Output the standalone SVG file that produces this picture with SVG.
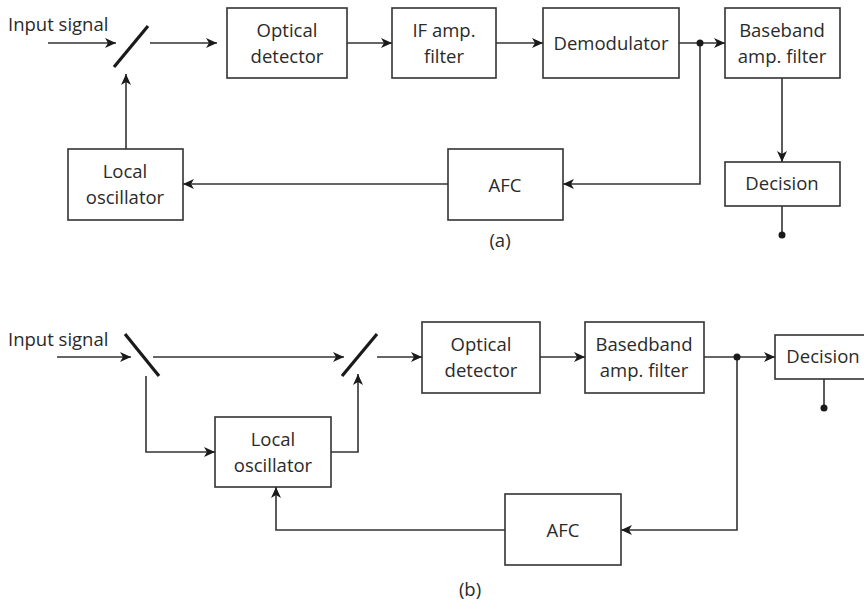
<svg xmlns="http://www.w3.org/2000/svg" width="864" height="602" viewBox="0 0 864 602">
<style>
.box{fill:#fff;stroke:#333;stroke-width:1.6}
.t{font-family:"Open Sans","Noto Sans",sans-serif;font-size:18.5px;fill:#2a2a2a;text-anchor:middle}
.tl{font-family:"Open Sans","Noto Sans",sans-serif;font-size:18.5px;fill:#2a2a2a}
.c{fill:none;stroke:#333;stroke-width:1.6}
.split{stroke:#1a1a1a;stroke-width:3.2;stroke-linecap:butt}
.dot{fill:#1a1a1a}
</style>
<defs>
<marker id="ah" markerUnits="userSpaceOnUse" markerWidth="14" markerHeight="12" refX="11" refY="5" orient="auto">
<path d="M0,0 L11,5 L0,10 L3,5 Z" fill="#1a1a1a"/>
</marker>
</defs>

<!-- (a) -->
<text class="tl" x="8" y="31">Input signal</text>
<line class="split" x1="114" y1="67" x2="148" y2="26"/>
<g id="a-optical"><rect class="box" x="227" y="8" width="120" height="70"/><text class="t" x="287" y="37">Optical</text><text class="t" x="287" y="63">detector</text></g>
<g id="a-if"><rect class="box" x="392" y="8" width="104" height="70"/><text class="t" x="444" y="37">IF amp.</text><text class="t" x="444" y="63">filter</text></g>
<g id="a-demod"><rect class="box" x="543" y="8" width="136" height="70"/><text class="t" x="611" y="50">Demodulator</text></g>
<g id="a-baseband"><rect class="box" x="725" y="8" width="115" height="70"/><text class="t" x="782" y="37">Baseband</text><text class="t" x="782" y="63">amp. filter</text></g>
<g id="a-decision"><rect class="box" x="725" y="162" width="115" height="44"/><text class="t" x="782" y="190">Decision</text></g>
<g id="a-afc"><rect class="box" x="448" y="149" width="115" height="71"/><text class="t" x="505" y="192">AFC</text></g>
<g id="a-lo"><rect class="box" x="68" y="149" width="115" height="71"/><text class="t" x="125" y="178">Local</text><text class="t" x="125" y="204">oscillator</text></g>
<text class="t" x="500" y="247">(a)</text>

<g id="a-connectors">
<path class="c" d="M48,43 H116" marker-end="url(#ah)"/>
<path class="c" d="M150,43 H217" marker-end="url(#ah)"/>
<path class="c" d="M347,43 H392" marker-end="url(#ah)"/>
<path class="c" d="M496,43 H543" marker-end="url(#ah)"/>
<path class="c" d="M679,43 H725" marker-end="url(#ah)"/>
<path class="c" d="M700,43 V184 H563" marker-end="url(#ah)"/>
<path class="c" d="M448,184 H183" marker-end="url(#ah)"/>
<path class="c" d="M126,149 V74" marker-end="url(#ah)"/>
<path class="c" d="M782,78 V162" marker-end="url(#ah)"/>
<path class="c" d="M782,206 V235"/>
<circle class="dot" cx="700" cy="43" r="3.5"/>
<circle class="dot" cx="782" cy="235" r="3.5"/>
</g>

<!-- (b) -->
<text class="tl" x="8" y="346">Input signal</text>
<line class="split" x1="125" y1="334" x2="159" y2="376"/>
<line class="split" x1="342" y1="376" x2="377" y2="334"/>
<g id="b-optical"><rect class="box" x="422" y="322" width="118" height="71"/><text class="t" x="481" y="351">Optical</text><text class="t" x="481" y="377">detector</text></g>
<g id="b-baseband"><rect class="box" x="585" y="322" width="119" height="71"/><text class="t" x="644" y="351">Basedband</text><text class="t" x="644" y="377">amp. filter</text></g>
<g id="b-decision"><rect class="box" x="775" y="335" width="96" height="44"/><text class="t" x="823" y="363">Decision</text></g>
<g id="b-lo"><rect class="box" x="215" y="417" width="116" height="70"/><text class="t" x="273" y="446">Local</text><text class="t" x="273" y="472">oscillator</text></g>
<g id="b-afc"><rect class="box" x="505" y="494" width="116" height="71"/><text class="t" x="563" y="537">AFC</text></g>
<text class="t" x="470" y="596">(b)</text>

<g id="b-connectors">
<path class="c" d="M57,357 H131" marker-end="url(#ah)"/>
<path class="c" d="M153,357 H344" marker-end="url(#ah)"/>
<path class="c" d="M377,357 H422" marker-end="url(#ah)"/>
<path class="c" d="M540,357 H585" marker-end="url(#ah)"/>
<path class="c" d="M704,357 H775" marker-end="url(#ah)"/>
<path class="c" d="M737,357 V530 H621" marker-end="url(#ah)"/>
<path class="c" d="M505,530 H276 V487" marker-end="url(#ah)"/>
<path class="c" d="M146,376 V452 H215" marker-end="url(#ah)"/>
<path class="c" d="M331,452 H358 V374" marker-end="url(#ah)"/>
<path class="c" d="M824,379 V408"/>
<circle class="dot" cx="737" cy="357" r="3.5"/>
<circle class="dot" cx="824" cy="408" r="3.5"/>
</g>
</svg>
